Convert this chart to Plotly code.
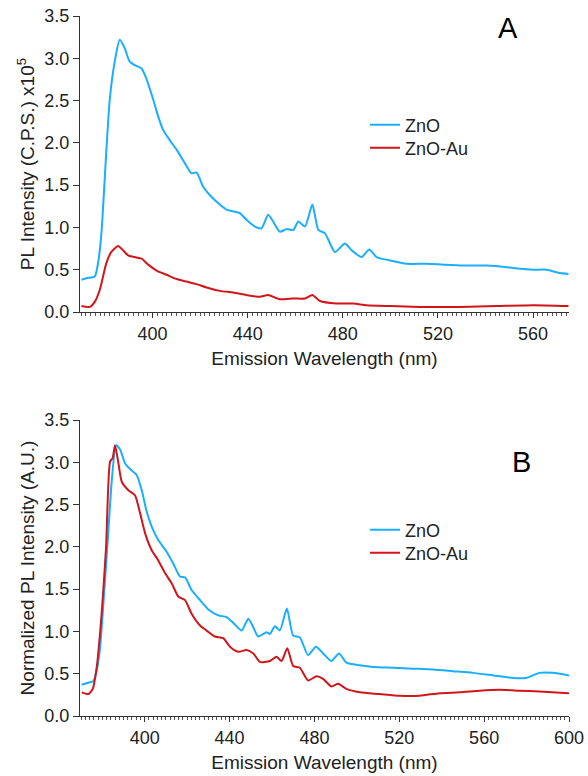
import plotly.graph_objects as go

# ---------------- Panel A data (PL intensity, x10^5 C.P.S.) ----------------
wl_a_zno = [370.1, 372.2, 375.7, 377.1, 378.5, 380.6, 382.0, 384.1, 386.2, 388.3,
            390.4, 392.5, 395.4, 397.4, 400.3, 402.4, 404.5, 407.3, 410.1, 413.6,
            416.4, 418.5, 421.3, 424.1, 428.3, 431.1, 433.9, 436.7, 439.5, 443.0,
            445.8, 448.6, 450.7, 453.5, 456.4, 459.2, 461.3, 464.1, 467.2, 469.7,
            472.5, 476.7, 480.9, 483.7, 487.9, 491.1, 494.2, 499.8, 506.8, 515.3,
            522.3, 530.7, 540.5, 548.9, 554.5, 560.1, 565.7, 571.4, 574.9]
int_a_zno = [0.38, 0.40, 0.42, 0.58, 0.93, 1.92, 2.51, 2.96, 3.22, 3.12,
             2.96, 2.92, 2.88, 2.76, 2.51, 2.31, 2.15, 2.03, 1.92, 1.76,
             1.64, 1.65, 1.48, 1.38, 1.27, 1.21, 1.19, 1.17, 1.09, 1.01,
             0.99, 1.15, 1.07, 0.95, 0.98, 0.97, 1.07, 1.01, 1.27, 0.97,
             0.93, 0.71, 0.81, 0.73, 0.65, 0.74, 0.65, 0.61, 0.57, 0.57,
             0.56, 0.55, 0.55, 0.53, 0.51, 0.50, 0.50, 0.46, 0.45]

wl_a_au = [370.1, 373.6, 375.7, 377.8, 380.6, 382.7, 385.5, 387.6, 389.7, 392.5,
           395.4, 398.2, 401.7, 405.9, 410.1, 414.3, 418.5, 422.7, 428.3, 433.9,
           439.5, 445.1, 448.6, 453.5, 459.2, 464.1, 467.2, 470.4, 477.4, 484.4,
           490.0, 499.8, 512.5, 529.3, 544.7, 560.1, 574.9]
int_a_au = [0.07, 0.06, 0.12, 0.26, 0.58, 0.71, 0.78, 0.73, 0.67, 0.65,
            0.63, 0.56, 0.49, 0.44, 0.39, 0.36, 0.33, 0.29, 0.25, 0.23,
            0.20, 0.18, 0.20, 0.15, 0.16, 0.16, 0.20, 0.13, 0.10, 0.10,
            0.08, 0.07, 0.06, 0.06, 0.07, 0.08, 0.07]

# ---------------- Panel B data (normalized PL intensity, A.U.) ----------------
wl_b_zno = [370.3, 374.3, 375.8, 377.4, 379.0, 381.3, 382.9, 384.5, 386.5, 388.4,
            390.7, 393.1, 396.2, 398.6, 400.9, 403.3, 406.4, 410.4, 413.5, 416.6,
            419.0, 422.1, 426.1, 430.0, 434.7, 438.6, 441.8, 445.7, 448.8, 451.2,
            453.5, 457.5, 459.0, 461.4, 463.7, 467.0, 470.0, 473.1, 477.0, 480.7,
            484.1, 488.0, 491.6, 495.1, 501.4, 507.7, 517.1, 526.5, 535.9, 545.3,
            554.7, 564.2, 573.6, 579.9, 586.1, 592.4, 600.0]
int_b_zno = [0.37, 0.40, 0.41, 0.54, 0.82, 1.61, 2.20, 2.79, 3.20, 3.15,
             2.99, 2.92, 2.85, 2.67, 2.42, 2.24, 2.08, 1.94, 1.80, 1.65,
             1.64, 1.49, 1.37, 1.26, 1.19, 1.17, 1.10, 1.01, 1.15, 1.05,
             0.94, 0.99, 0.97, 1.06, 1.01, 1.27, 0.95, 0.93, 0.72, 0.82,
             0.74, 0.65, 0.74, 0.63, 0.60, 0.58, 0.57, 0.56, 0.55, 0.53,
             0.51, 0.48, 0.45, 0.45, 0.51, 0.51, 0.48]

wl_b_au = [370.3, 373.5, 375.5, 377.4, 379.7, 381.8, 383.7, 384.9, 386.0, 387.6,
           389.2, 392.3, 395.4, 397.8, 400.2, 403.3, 406.4, 409.6, 412.7, 415.9,
           419.0, 422.1, 426.1, 429.2, 433.1, 437.0, 440.2, 444.1, 448.0, 451.2,
           454.3, 459.0, 462.2, 464.5, 467.2, 470.0, 473.1, 477.0, 481.0, 484.1,
           488.0, 491.2, 495.1, 501.4, 510.8, 520.2, 529.6, 539.1, 548.5, 557.9,
           567.3, 576.7, 586.1, 600.0]
int_b_au = [0.28, 0.26, 0.32, 0.58, 1.21, 2.00, 3.01, 3.05, 3.20, 2.99,
            2.77, 2.67, 2.61, 2.40, 2.16, 1.96, 1.84, 1.69, 1.57, 1.41,
            1.37, 1.21, 1.07, 1.01, 0.94, 0.92, 0.82, 0.76, 0.78, 0.74,
            0.64, 0.65, 0.70, 0.65, 0.80, 0.59, 0.57, 0.42, 0.47, 0.44,
            0.35, 0.38, 0.32, 0.28, 0.26, 0.24, 0.24, 0.27, 0.28, 0.30,
            0.31, 0.30, 0.29, 0.27]

series_names = ["ZnO", "ZnO-Au"]
BLUE = "#1AAEFF"
RED = "#D0161A"
FONT = "Liberation Sans, Arial, sans-serif"
TXT = "#222222"

W, H = 588, 776
def py(px):
    return 1 - px / H

line_kw = dict(width=2, shape="spline", smoothing=0.6)

fig = go.Figure()
fig.add_trace(go.Scatter(x=wl_a_zno, y=int_a_zno, mode="lines", name=series_names[0],
                         line=dict(color=BLUE, **line_kw), xaxis="x", yaxis="y", legend="legend"))
fig.add_trace(go.Scatter(x=wl_a_au, y=int_a_au, mode="lines", name=series_names[1],
                         line=dict(color=RED, **line_kw), xaxis="x", yaxis="y", legend="legend2"))
fig.add_trace(go.Scatter(x=wl_b_zno, y=int_b_zno, mode="lines", name=series_names[0],
                         line=dict(color=BLUE, **line_kw), xaxis="x2", yaxis="y2", legend="legend3"))
fig.add_trace(go.Scatter(x=wl_b_au, y=int_b_au, mode="lines", name=series_names[1],
                         line=dict(color=RED, **line_kw), xaxis="x2", yaxis="y2", legend="legend4"))

xdom = [80 / W, 569 / W]

common_x = dict(showline=True, linecolor="#333333", linewidth=1, ticks="outside",
                ticklen=5, tickcolor="#333333", tickwidth=1, dtick=40, tick0=400,
                showgrid=False, zeroline=False, automargin=False,
                tickfont=dict(family=FONT, size=18, color=TXT),
                minor=dict(dtick=2, ticks="outside", ticklen=3, tickcolor="#555555", showgrid=False))
common_y = dict(showline=True, linecolor="#333333", linewidth=1, ticks="outside",
                ticklen=6, tickcolor="#333333", tickwidth=1, dtick=0.5, range=[0, 3.5],
                tickformat=".1f", showgrid=False, zeroline=False, automargin=False,
                tickfont=dict(family=FONT, size=18, color=TXT))

def leg(ycenter):
    return dict(x=365 / W, y=py(ycenter), xanchor="left", yanchor="middle", bgcolor="rgba(0,0,0,0)",
                font=dict(family=FONT, size=18, color=TXT), borderwidth=0)

fig.update_layout(
    width=W, height=H, margin=dict(l=0, r=0, t=0, b=0),
    paper_bgcolor="white", plot_bgcolor="white",
    font=dict(family=FONT, color=TXT),
    xaxis=dict(common_x, domain=xdom, range=[369.5, 575.1], anchor="y",
               title=dict(text="Emission Wavelength (nm)", font=dict(family=FONT, size=19, color=TXT), standoff=9)),
    yaxis=dict(common_y, domain=[py(312), py(16)], anchor="x",
               title=dict(text="PL Intensity (C.P.S.) x10<sup>5</sup>", font=dict(family=FONT, size=19, color=TXT), standoff=4)),
    xaxis2=dict(common_x, domain=xdom, range=[369.5, 600], anchor="y2",
                title=dict(text="Emission Wavelength (nm)", font=dict(family=FONT, size=19, color=TXT), standoff=9)),
    yaxis2=dict(common_y, domain=[py(716), py(420)], anchor="x2",
                title=dict(text="Normalized PL Intensity (A.U.)", font=dict(family=FONT, size=19, color=TXT), standoff=4)),
    legend=leg(125),
    legend2=leg(148),
    legend3=leg(530),
    legend4=leg(553),
    showlegend=True,
    annotations=[
        dict(text="A", x=508 / W, y=py(28), xref="paper", yref="paper", showarrow=False,
             font=dict(family=FONT, size=29, color="black"), xanchor="center", yanchor="middle"),
        dict(text="B", x=521 / W, y=py(462), xref="paper", yref="paper", showarrow=False,
             font=dict(family=FONT, size=29, color="black"), xanchor="center", yanchor="middle"),
    ],
)

fig.write_html("out.html")
